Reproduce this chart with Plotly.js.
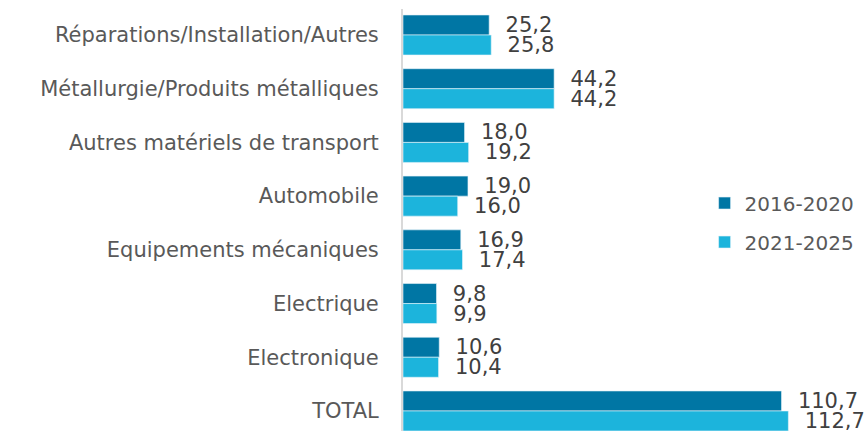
<!DOCTYPE html>
<html>
<head>
<meta charset="utf-8">
<script src="https://cdn.plot.ly/plotly-3.0.1.min.js"></script>
<style>html,body{margin:0;padding:0;background:#fff;}#chart{width:867px;height:431px;}</style>
</head>
<body>
<div id="chart"></div>
<script>
var categories = ["Réparations/Installation/Autres", "Métallurgie/Produits métalliques", "Autres matériels de transport", "Automobile", "Equipements mécaniques", "Electrique", "Electronique", "TOTAL"];
var series2016 = [25.2, 44.2, 18.0, 19.0, 16.9, 9.8, 10.6, 110.7];
var series2021 = [25.8, 44.2, 19.2, 16.0, 17.4, 9.9, 10.4, 112.7];
var seriesNames = ["2016-2020", "2021-2025"];

var FONT = "DejaVu Sans, Open Sans, sans-serif";
var pad = "\u00A0\u00A0";

var traces = [
  {type: "bar", orientation: "h", name: seriesNames[0], legendgroup: "a", y: categories, x: series2016,
   marker: {color: "#0076a4", line: {color: "#e6f4fa", width: 0.6}},
   texttemplate: pad + "%{x:.1f}", textposition: "outside", constraintext: "none", cliponaxis: false,
   textfont: {family: FONT, size: 21, color: "#404040"}, hoverinfo: "x+y"},
  {type: "bar", orientation: "h", name: seriesNames[1], legendgroup: "b", y: categories, x: series2021,
   marker: {color: "#1cb4dc", line: {color: "#e6f4fa", width: 0.6}},
   texttemplate: pad + "%{x:.1f}", textposition: "outside", constraintext: "none", cliponaxis: false,
   textfont: {family: FONT, size: 21, color: "#404040"}, hoverinfo: "x+y"}
];

var layout = {
  width: 867, height: 431,
  margin: {l: 403, r: 0, t: 9, b: 0, pad: 0},
  paper_bgcolor: "#ffffff", plot_bgcolor: "#ffffff",
  separators: ", ",
  barmode: "group", bargap: 0.255, bargroupgap: 0,
  font: {family: FONT, color: "#595959"},
  showlegend: true,
  legend: {x: 0.65, y: 0.494, xanchor: "left", yanchor: "middle", font: {family: FONT, size: 20, color: "#595959"},
           bgcolor: "rgba(0,0,0,0)", traceorder: "grouped", tracegroupgap: 10, itemwidth: 30},
  xaxis: {range: [0, 135.7], showgrid: false, zeroline: false, showticklabels: false, showline: false, fixedrange: true},
  yaxis: {type: "category", range: [7.373, -0.484], showgrid: false, zeroline: false, showline: true,
          linecolor: "#d9d9d9", linewidth: 2, ticks: "", ticklabelstandoff: 18,
          tickfont: {family: FONT, size: 21, color: "#595959"}, fixedrange: true}
};

Plotly.newPlot("chart", traces, layout, {displayModeBar: false, staticPlot: true});
</script>
</body>
</html>
